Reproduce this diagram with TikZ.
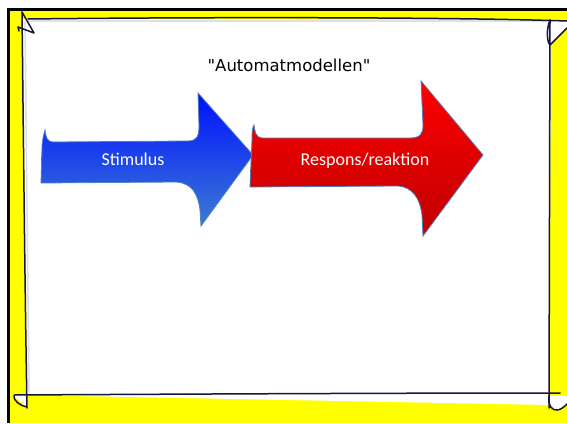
\documentclass[tikz,border=0pt]{standalone}
\usepackage{fontspec}
\setmainfont{Carlito}
\newfontfamily\titlefont{DejaVu Sans}
\usetikzlibrary{positioning}
\definecolor{slideyellow}{HTML}{FFFF00}
\definecolor{inkline}{HTML}{15153F}
\definecolor{arrowedge}{HTML}{4F81BD}
\definecolor{stimtop}{HTML}{0010FF}
\definecolor{stimbot}{HTML}{3C7CD2}
\definecolor{resptop}{HTML}{FF0000}
\definecolor{respbot}{HTML}{BE0000}
\tikzset{
    frame ink/.style={draw=inkline, line width=1.5pt, line cap=round, line join=round},
    frame shade/.style={draw=black!12, line width=1.6pt, line cap=round},
    stim arrow/.style={draw=arrowedge, line width=0.8pt, top color=stimtop, bottom color=stimbot},
    resp arrow/.style={draw=arrowedge, line width=0.8pt, top color=resptop, bottom color=respbot},
    arrow text/.style={font=\fontsize{18}{20}\selectfont, text=white, anchor=base},
    title text/.style={font=\titlefont\fontsize{16.5}{20}\selectfont, anchor=base}
}
\begin{document}
\begin{tikzpicture}[x=1pt, y=-1pt]
\useasboundingbox (0,0) rectangle (567,423);
% slide background
\fill[slideyellow] (8,9) rectangle (567,423);
\draw[line width=3pt] (8,423) -- (8,9) -- (567,9);

% white card
\fill[white] (23,19) -- (567,20) -- (567,28) -- (551,45) -- (549,396) -- (567,396) -- (567,404)
    -- (555,411) -- (549,405) -- (27,395) -- (27,407) -- (14,396) -- (26,395) -- cycle;
\draw[frame shade] (27,21) -- (547,21);
\draw[frame shade] (25,22) -- (29,392);

% hand drawn frame
\draw[frame ink] (28,19) .. controls (200,17) and (450,17) .. (567,21);
\draw[frame ink] (22,12) .. controls (23,100) and (25,300) .. (27,408);
\draw[frame ink] (550,20) -- (549,408);
\draw[frame ink] (14,395) .. controls (200,394) and (400,393) .. (560,393);
\draw[frame ink] (22,12) -- (34,33) -- (18,27) -- (19,31);
\draw[frame ink] (550,20) .. controls (546,30) and (547,42) .. (550,45) -- (567,28);
\draw[frame ink] (14,396) .. controls (13,400) and (20,406) .. (27,407);
\draw[frame ink] (549,396) .. controls (548,406) and (552,411) .. (558,410)
    .. controls (562,409) and (565,406) .. (567,404);

% title
\node[title text] (title) at (289,71) {"Automatmodellen"};

% arrows
\path[stim arrow] (41,183) -- (42,148) .. controls (42,140) and (44,134) .. (45,130)
    .. controls (46,136) and (46,142) .. (54,142) -- (188,141)
    .. controls (197,141) and (199,136) .. (199,126) -- (198,93) -- (253,155) -- (201,226)
    -- (200,210) .. controls (198,194) and (192,183) .. (176,182) -- cycle;
\path[resp arrow] (250,187) -- (252,140) .. controls (252,133) and (252,128) .. (254,125)
    .. controls (255,131) and (255,137) .. (262,138) -- (410,138)
    .. controls (420,138) and (423,134) .. (423,125) -- (421,81) -- (483,155) -- (423,236)
    -- (422,215) .. controls (420,198) and (412,187) .. (398,186) -- cycle;
\node[arrow text] (stimulus) at (133,165) {Stimulus};
\node[arrow text] (respons) at (365,165) {Respons/reaktion};
\end{tikzpicture}
\end{document}
